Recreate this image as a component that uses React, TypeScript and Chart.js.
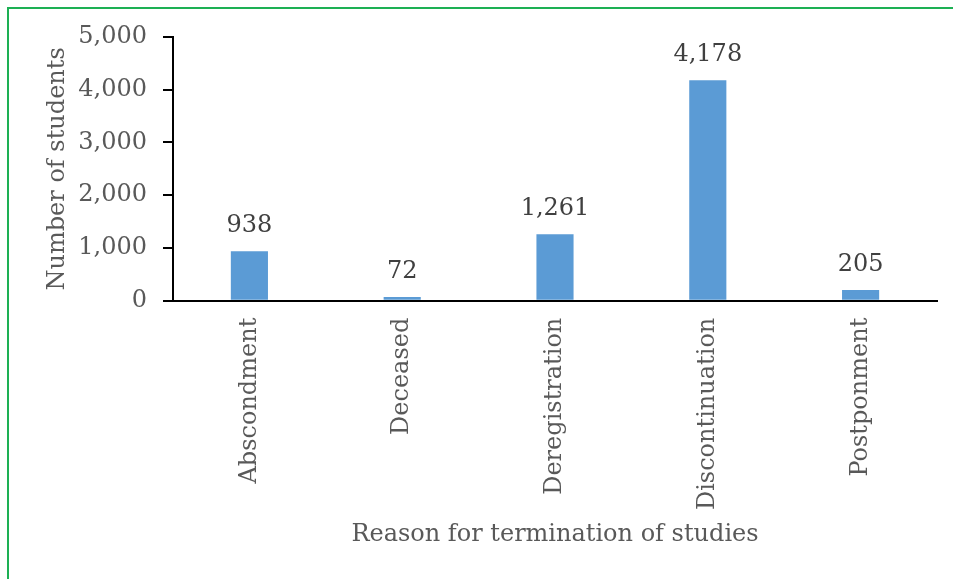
import React, { useEffect, useRef } from "react";
import { Chart, registerables } from "chart.js";

Chart.register(...registerables);

const categories = ["Abscondment", "Deceased", "Deregistration", "Discontinuation", "Postponment"];
const studentCounts = [938, 72, 1261, 4178, 205];
const yTickValues = [0, 1000, 2000, 3000, 4000, 5000];
const xTitle = "Reason for termination of studies";
const yTitle = "Number of students";

const FONT = "'DejaVu Serif', serif";
const W = 953;
const H = 579;

const dataLabelPlugin = {
  id: "dataLabels",
  afterDatasetsDraw(chart: any) {
    const ctx = chart.ctx;
    const meta = chart.getDatasetMeta(0);
    ctx.save();
    ctx.font = `24px ${FONT}`;
    ctx.fillStyle = "#404040";
    ctx.textAlign = "center";
    ctx.textBaseline = "alphabetic";
    meta.data.forEach((bar: any, i: number) => {
      ctx.fillText(studentCounts[i].toLocaleString("en-US"), bar.x, bar.y - 19);
    });
    ctx.restore();
  },
};

export default function App() {
  const canvasRef = useRef<HTMLCanvasElement | null>(null);

  useEffect(() => {
    if (!canvasRef.current) return;
    const chart = new Chart(canvasRef.current, {
      type: "bar",
      data: {
        labels: categories,
        datasets: [
          {
            data: studentCounts,
            backgroundColor: "#5b9bd5",
            borderWidth: 0,
            categoryPercentage: 1,
            barPercentage: 0.243,
          },
        ],
      },
      options: {
        animation: false,
        responsive: false,
        maintainAspectRatio: false,
        layout: { padding: { left: 39, right: 16, top: 37, bottom: 26 } },
        plugins: {
          legend: { display: false },
          tooltip: { enabled: false },
        },
        scales: {
          x: {
            grid: { display: false, drawTicks: false },
            border: { display: true, color: "#000000", width: 2 },
            ticks: {
              minRotation: 90,
              maxRotation: 90,
              padding: 17,
              color: "#595959",
              font: { family: FONT, size: 24 },
            },
            title: {
              display: true,
              text: xTitle,
              color: "#595959",
              font: { family: FONT, size: 24 },
              padding: { top: 4, bottom: 4 },
            },
            afterFit: (s: any) => {
              s.height = H - 26 - 300.7;
            },
          },
          y: {
            min: 0,
            max: 5000,
            afterBuildTicks: (s: any) => {
              s.ticks = yTickValues.map((v) => ({ value: v }));
            },
            ticks: {
              padding: 16,
              color: "#595959",
              font: { family: FONT, size: 24 },
              callback: (v: any) => Number(v).toLocaleString("en-US"),
            },
            grid: {
              display: true,
              drawOnChartArea: false,
              drawTicks: true,
              tickLength: 10,
              color: "#000000",
              lineWidth: 2,
            },
            border: { display: true, color: "#000000", width: 2 },
            title: {
              display: true,
              text: yTitle,
              color: "#595959",
              font: { family: FONT, size: 24 },
              padding: { top: 4, bottom: 4 },
            },
            afterFit: (s: any) => {
              s.width = 173 - 39;
            },
          },
        },
      },
      plugins: [dataLabelPlugin],
    });
    return () => chart.destroy();
  }, []);

  return (
    <div style={{ position: "absolute", left: 0, top: 0, width: W, height: H, background: "#ffffff", overflow: "hidden" }}>
      <canvas ref={canvasRef} width={W} height={H} style={{ width: W, height: H, display: "block" }} />
      <div
        style={{
          position: "absolute",
          left: 7,
          top: 7,
          width: W,
          height: H,
          borderTop: "2px solid #1db054",
          borderLeft: "2px solid #1db054",
          pointerEvents: "none",
        }}
      />
    </div>
  );
}
